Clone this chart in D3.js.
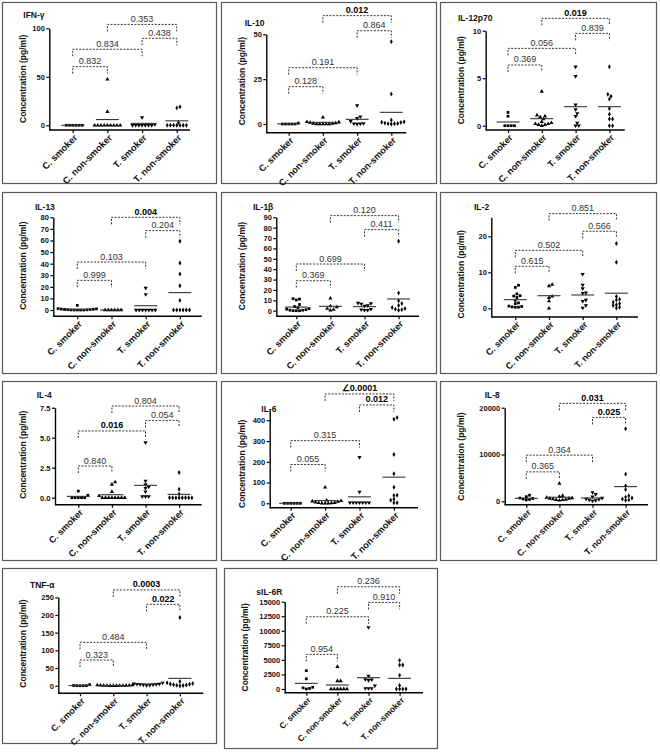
<!DOCTYPE html>
<html><head><meta charset="utf-8">
<script src="https://cdn.jsdelivr.net/npm/d3@7"></script>
<style>
body{margin:0;background:#fff}
svg{display:block;font-family:"Liberation Sans",Arial,sans-serif}
</style>
</head><body>
<svg id="chart" width="660" height="752"></svg>
<script>
// ---------- DATA ----------
const categories = ["C. smoker", "C. non-smoker", "T. smoker", "T. non-smoker"];
const titles = ["IFN-\u03b3", "IL-10", "IL-12p70", "IL-13", "IL-1\u03b2", "IL-2", "IL-4", "IL-6", "IL-8", "TNF-\u03b1", "sIL-6R"];
const yAxisTitle = "Concentration (pg/ml)";

const ifngValues = [[0,0,0,0,0,0],[47.4,14,0,0,0,0,0,0,0,0,0],[8.2,1,0,0,0,0,0,0,0],[19,18,3,0,0,0,0,0,0,0]];
const ifngMeans = [0, 5.9, 2.0, 4.6];
const ifngTicks = [0, 50, 100];
const ifngP = [["0.832",0,1,60.5,0],["0.834",0,2,78.4,0],["0.438",2,3,89.7,0],["0.353",1,3,104,0]];

const il10Values = [[0,0,0,0,0,0.5],[3.7,1.2,1,0.8,0.5,0.3,0.2,0,0,0,0,0],[10.4,4.1,3.2,1.5,0.3,0.2,0.1,0],[45.9,16.7,2.2,1.2,1,0.8,0.5,0.3,0.2,0.1,0]];
const il10Means = [0.1, 0.9, 2.6, 6.5];
const il10Ticks = [0, 25, 50];
const il10P = [["0.128",0,1,20.8,0],["0.191",0,2,31.4,0],["0.864",2,3,52,0],["0.012",1,3,60.4,1]];

const il12Values = [[1.4,1.0,0,0,0,0],[3.6,1.1,1.0,0.9,0.7,0.4,0.3,0.2,0.2,0.1,0.1,0],[6.2,5.2,2.2,1.7,1.3,1.0,0.3,0,0],[6.2,3.3,3.1,2.8,1.8,1.2,0.7,0.7,0,0]];
const il12Means = [0.39, 0.74, 2.0, 2.0];
const il12Ticks = [0, 5, 10];
const il12P = [["0.369",0,1,6.39,0],["0.056",0,2,8.14,0],["0.839",2,3,9.72,0],["0.019",1,3,11.3,1]];

const il13Values = [[4,1.2,1,0.8,0.6,0.5,0.4,0.3,0.2,0.1,0,0,0,0],[0,0,0,0,0,0],[19,13.5,0,0,0,0,0,0,0],[59.3,40.6,31.1,21,8.3,0,0,0,0,0,0]];
const il13Means = [0.5, 0, 3.7, 15];
const il13Ticks = [0,10,20,30,40,50,60,70,80];
const il13P = [["0.999",0,1,25.6,0],["0.103",0,2,41.4,0],["0.204",2,3,68.5,0],["0.004",1,3,80,1]];

const il1bValues = [[11.6,11.2,10.3,6,4,3,2,1.5,1,0.5,0.5,0,0,0],[11.9,4.5,3.5,2,1,0.5],[7.4,7,6.5,5,4.5,1.5,1,0.5,0.5],[66.9,17,9.6,7,5,3,2,1.5,1,0.5]];
const il1bMeans = [3.5, 4.2, 3.9, 11.3];
const il1bTicks = [0,10,20,30,40,50,60,70,80,90];
const il1bP = [["0.369",0,1,28.9,0],["0.699",0,2,45,0],["0.411",2,3,78.1,0],["0.120",1,3,91.6,0]];

const il2Values = [[6.4,5.8,4.0,3.5,3.4,3.0,2.2,1.5,1.3,0.6,0.5,0.4,0.3,0.3],[6.6,6.2,3.3,2.9,2.0,0],[9.5,6.5,5.5,4.3,4.2,2.3,2.0,0.8,0.1],[18,12.8,3.3,2.5,2.3,1.7,1.3,1.0,0.8,0.3,0.1]];
const il2Means = [2.4, 3.5, 3.7, 4.2];
const il2Ticks = [0, 10, 20];
const il2P = [["0.615",0,1,11.67,0],["0.502",0,2,16.1,0],["0.566",2,3,21.4,0],["0.851",1,3,26.3,0]];

const il4Values = [[0.55,0.2,0,0,0,0,0],[1.3,1.1,0.5,0.15,0,0,0,0,0,0,0,0],[4.6,1.4,1.1,0.9,0.8,0.5,0.1,0.1,0.1],[2.1,0.7,0.3,0,0,0,0,0,0,0,0]];
const il4Means = [0.11, 0.25, 1.03, 0.28];
const il4Ticks = [0, 2.5, 5, 7.5];
const il4P = [["0.840",0,1,2.64,0],["0.016",0,2,5.56,1],["0.054",2,3,6.44,0],["0.804",1,3,7.64,0]];

const il6Values = [[0,0,0,0,0,0],[77,14,12,10,8,5,3,2,1,0.5,0,0],[222,55,3,3,3,3,3,3,3],[413,405,235,142,77,39,38,20,15,3,3]];
const il6Means = [0, 13, 31, 126];
const il6Ticks = [0,100,200,300,400];
const il6P = [["0.055",0,1,187,0],["0.315",0,2,302,0],["0.012",2,3,474,1],["\u22200.0001",1,3,527,1]];

const il8Values = [[1300,1000,700,600,500,400,300],[3800,1200,1000,800,700,600,600,500,400,300,300,200],[1900,1500,1000,700,500,400,300,200,100],[15500,5800,3300,2500,1200,900,700,500,300,200]];
const il8Means = [640, 860, 714, 3140];
const il8Ticks = [0, 10000, 20000];
const il8P = [["0.365",0,1,6286,0],["0.364",0,2,9857,0],["0.025",2,3,17929,1],["0.031",1,3,20929,1]];

const tnfValues = [[3,0.5,0.3,0.2,0.1,0],[2,1.5,1,0.8,0.5,0.4,0.3,0.2,0.1,0,0,0],[8,6,5,4.5,4,3.5,3,2.5,2,1],[193,12,8,6,5,4,3,2,1,0.5,0]];
const tnfMeans = [0.5, 0.5, 4.7, 20.8];
const tnfTicks = [0,50,100,150,200,250];
const tnfP = [["0.323",0,1,72.6,0],["0.484",0,2,122.6,0],["0.022",2,3,230,1],["0.0003",1,3,270.8,1]];

const sil6rValues = [[3150,1750,300,200,100,0],[3830,1370,1370,0,0,0,0,0,0],[10580,2230,1660,1600,1500,570,100,100,100],[4920,4120,4120,2345,600,0,0,0,0]];
const sil6rMeans = [970, 690, 1945, 1830];
const sil6rTicks = [0,2500,5000,7500,10000,12500,15000];
const sil6rP = [["0.954",0,1,5950,0],["0.225",0,2,12414,0],["0.910",2,3,14874,0],["0.236",1,3,17563,0]];

const axisMax = [100, 50, 10, 80, 90, 25.3, 7.5, 451, 20000, 250, 15000];
const allValues = [ifngValues, il10Values, il12Values, il13Values, il1bValues, il2Values, il4Values, il6Values, il8Values, tnfValues, sil6rValues];
const allMeans = [ifngMeans, il10Means, il12Means, il13Means, il1bMeans, il2Means, il4Means, il6Means, il8Means, tnfMeans, sil6rMeans];
const allTicks = [ifngTicks, il10Ticks, il12Ticks, il13Ticks, il1bTicks, il2Ticks, il4Ticks, il6Ticks, il8Ticks, tnfTicks, sil6rTicks];
const allP = [ifngP, il10P, il12P, il13P, il1bP, il2P, il4P, il6P, il8P, tnfP, sil6rP];

// ---------- LAYOUT (pixels) ----------
const layout = [
  {box:[2,2,216,183],   ax:49.3,  end:190,   zero:125.3, refPx:28.3,  base:130,   cat0:72.7,  step:34.7, title:[23.3,18]},
  {box:[221,2,436,183], ax:266.3, end:406.3, zero:124,   refPx:34.3,  base:132.7, cat0:288.7, step:34.2, title:[244.7,26.3]},
  {box:[440,2,656,183], ax:485.7, end:624.7, zero:125.7, refPx:30.7,  base:130,   cat0:508,   step:33.8, title:[458,21.3]},
  {box:[2,192,216,373], ax:53.3,  end:201.7, zero:310,   refPx:217.3, base:316.3, cat0:77.3,  step:34.2, title:[35,210]},
  {box:[221,192,436,373], ax:276.3, end:419, zero:310.7, refPx:217.3, base:316.3, cat0:296.3, step:34.1, title:[253,210]},
  {box:[440,192,656,373], ax:491.3, end:638, zero:308.3, refPx:236.3, base:317,   cat0:515.3, step:33.7, title:[474,210]},
  {box:[2,381,216,560], ax:55,    end:201.7, zero:497.7, refPx:407.7, base:504.7, cat0:78.3,  step:33.6, title:[36.7,398.3]},
  {box:[221,381,436,560], ax:269.7, end:418, zero:503.3, refPx:420.3, base:507.7, cat0:290.7, step:34.4, title:[261.3,411.7]},
  {box:[440,381,656,560], ax:504.7, end:648, zero:501.3, refPx:407.7, base:504.7, cat0:526.3, step:33.1, title:[484.7,398.3]},
  {box:[2,568,216,743], ax:58.3,  end:203.3, zero:685.7, refPx:597.3, base:693.3, cat0:80,    step:33.3, title:[30,588]},
  {box:[224,568,437,748], ax:284.7, end:423, zero:689,   refPx:601.7, base:692.7, cat0:306.3, step:31.1, title:[256.3,594.7]}
];

const symbols = [d3.symbolSquare, d3.symbolTriangle, d3.symbolTriangle, d3.symbolDiamond];
const symSize = [7.5, 7.5, 7.5, 7];
const symRot = [0, 0, 180, 0];

const svg = d3.select("#chart");

function swarm(vals, y, d) {
  const pts = vals.map(v => ({v, py: y(v)})).sort((a, b) => b.py - a.py);
  const placed = [];
  for (const p of pts) {
    let off = 0;
    for (let k = 0; k < 80; k++) {
      const o = k === 0 ? 0 : (k % 2 ? 1 : -1) * Math.ceil(k / 2) * d / 2;
      if (placed.every(q => Math.hypot(q.dx - o, q.py - p.py) >= d - 0.01)) { off = o; break; }
    }
    p.dx = off; placed.push(p);
  }
  return pts;
}

titles.forEach((title, i) => {
  const L = layout[i];
  const ticks = allTicks[i];
  const ref = ticks[ticks.length - 1];
  const y0 = d3.scaleLinear().domain([0, ref]).range([L.zero, L.refPx]);
  const y = d3.scaleLinear().domain([y0.invert(L.base), axisMax[i]]).range([L.base, y0(axisMax[i])]);
  const x = d3.scalePoint().domain(categories).range([L.cat0, L.cat0 + 3 * L.step]);
  const g = svg.append("g");
  const labelFs = 0.27 * L.step;

  g.append("rect").attr("x", L.box[0] + 0.5).attr("y", L.box[1] + 0.5)
    .attr("width", L.box[2] - L.box[0]).attr("height", L.box[3] - L.box[1])
    .attr("fill", "#fff").attr("stroke", "#5a5a5a").attr("stroke-width", 1.2);

  g.append("text").attr("x", L.title[0]).attr("y", L.title[1])
    .attr("font-size", 8.5).attr("font-weight", "bold").attr("fill", "#111").text(title);

  const fmt = ticks.some(t => t % 1 !== 0) ? d3.format(".1f") : d3.format("d");
  const ya = g.append("g").attr("transform", `translate(${L.ax},0)`)
    .call(d3.axisLeft(y).tickValues(ticks).tickFormat(fmt).tickSize(3).tickSizeOuter(0).tickPadding(1.5));
  ya.select(".domain").attr("stroke", "#000").attr("stroke-width", 1.4);
  ya.selectAll(".tick line").attr("stroke", "#000").attr("stroke-width", 1.2);
  ya.selectAll(".tick text").attr("font-size", 7.5).attr("font-weight", "bold")
    .attr("font-family", "Liberation Sans, Arial, sans-serif").attr("fill", "#111");

  g.append("text")
    .attr("transform", `translate(${L.box[0] + 24},${(L.refPx + L.zero) / 2 + 2}) rotate(-90)`)
    .attr("text-anchor", "middle").attr("font-size", 8.5).attr("font-weight", "bold")
    .attr("fill", "#111").text(yAxisTitle);

  g.append("line").attr("x1", L.ax).attr("x2", L.end).attr("y1", L.base).attr("y2", L.base)
    .attr("stroke", "#000").attr("stroke-width", 1.4);
  const xa = g.append("g").attr("transform", `translate(0,${L.base})`)
    .call(d3.axisBottom(x).tickSize(3).tickSizeOuter(0).tickFormat(""));
  xa.select(".domain").remove();
  xa.selectAll(".tick line").attr("stroke", "#000").attr("stroke-width", 1.2);

  categories.forEach(c => {
    g.append("text")
      .attr("transform", `translate(${x(c) + 3},${L.base + 6}) rotate(-45)`)
      .attr("text-anchor", "end").attr("dy", "0.35em")
      .attr("font-size", labelFs).attr("font-weight", "bold").attr("fill", "#111").text(c);
  });

  allValues[i].forEach((vals, ci) => {
    const cx = x(categories[ci]);
    const pts = swarm(vals, y, 3.2);
    const sym = d3.symbol().type(symbols[ci]).size(symSize[ci]);
    g.selectAll(null).data(pts).join("path")
      .attr("d", sym)
      .attr("transform", p => `translate(${cx + p.dx},${p.py}) rotate(${symRot[ci]})`)
      .attr("fill", "#000");
    const m = allMeans[i][ci];
    g.append("line").attr("x1", cx - 11.5).attr("x2", cx + 11.5)
      .attr("y1", y(m)).attr("y2", y(m)).attr("stroke", "#333").attr("stroke-width", 1.1);
  });

  allP[i].forEach(([label, a, b, level, bold]) => {
    const xa1 = x(categories[a]), xb1 = x(categories[b]);
    const ly = y(level);
    g.append("path")
      .attr("d", `M${xa1},${ly + 7}V${ly}H${xb1}V${ly + 7}`)
      .attr("fill", "none").attr("stroke", "#333").attr("stroke-width", 1)
      .attr("stroke-dasharray", "2,1.4");
    g.append("text").attr("x", (xa1 + xb1) / 2).attr("y", ly - 2.5)
      .attr("text-anchor", "middle").attr("font-size", 9)
      .attr("font-weight", bold ? "bold" : "normal")
      .attr("fill", bold ? "#000" : "#333").text(label);
  });
});
</script>
</body></html>
